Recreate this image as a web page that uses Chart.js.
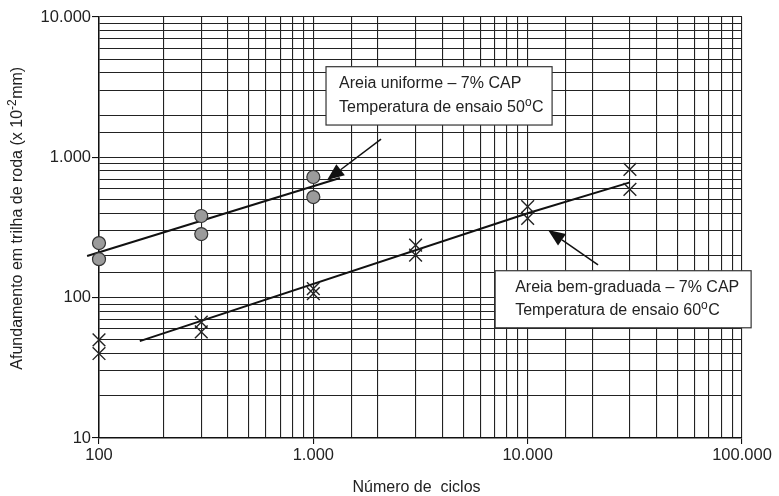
<!DOCTYPE html>
<html><head><meta charset="utf-8">
<script src="https://cdn.jsdelivr.net/npm/chart.js@4.4.1/dist/chart.umd.min.js"></script>
<style>html,body{margin:0;padding:0;background:#fff}#wrap{width:779px;height:496px;position:relative}</style>
</head><body><div id="wrap"><canvas id="c" width="779" height="496"></canvas></div>
<script>
// ---- data ----
const uniformCycles = [100, 100, 300, 300, 1000, 1000];
const uniformDepth  = [245, 188, 382, 284, 724, 521];
const gradedCycles  = [100, 100, 300, 300, 1000, 1000, 3000, 3000, 10000, 10000, 30000, 30000];
const gradedDepth   = [50, 40, 67, 57, 116, 107, 237, 201, 445, 367, 821, 591];
const uniformTrendCycles = [88, 1330];
const uniformTrendDepth  = [198, 712];
const gradedTrendCycles  = [155, 10000, 30000];
const gradedTrendDepth   = [49, 400, 663];
const xTickLabels = [100, 1000, 10000, 100000];
const yTickLabels = [10, 100, 1000, 10000];
const xTitle = 'Número de  ciclos';
const yTitleParts = ['Afundamento em trilha de roda (x 10', '-2', 'mm)'];
const note1Lines = [['Areia uniforme – 7% CAP'], ['Temperatura de ensaio 50', 'o', 'C']];
const note2Lines = [['Areia bem-graduada – 7% CAP'], ['Temperatura de ensaio 60', 'o', 'C']];

// annotation placement (data coordinates)
const notes = [
  {lines: note1Lines, x0: 1146, x1: 13000, y0: 4424, y1: 1699, padX: 13, from: [2070, 1350], to: [1159, 689]},
  {lines: note2Lines, x0: 7050, x1: 110300, y0: 155.6, y1: 61, padX: 20, from: [21300, 171], to: [12450, 303]}
];

const FONT = "'Liberation Sans', Arial, sans-serif";
const fmt = v => String(v).replace(/\B(?=(\d{3})+(?!\d))/g, '.');
const isPow10 = v => Math.abs(Math.log10(v) - Math.round(Math.log10(v))) < 1e-9;
const toPts = (xs, ys) => xs.map((x, i) => ({x, y: ys[i]}));

function drawParts(ctx, parts, x, y, size) {
  let cx = x;
  parts.forEach((p, i) => {
    const sup = (i % 2 === 1);
    ctx.font = (sup ? Math.round(size * 0.75) : size) + 'px ' + FONT;
    ctx.fillText(p, cx, sup ? y - size * 0.33 : y);
    cx += ctx.measureText(p).width + (sup ? 0.5 : 0);
  });
}
function partsWidth(ctx, parts, size) {
  let w = 0;
  parts.forEach((p, i) => {
    ctx.font = ((i % 2 === 1) ? Math.round(size * 0.75) : size) + 'px ' + FONT;
    w += ctx.measureText(p).width;
  });
  return w;
}
function arrow(ctx, x1, y1, x2, y2) {
  const a = Math.atan2(y2 - y1, x2 - x1), L = 17, W = 7;
  const bx = x2 - L * Math.cos(a), by = y2 - L * Math.sin(a);
  ctx.strokeStyle = '#111'; ctx.lineWidth = 1.5;
  ctx.beginPath(); ctx.moveTo(x1, y1); ctx.lineTo(bx, by); ctx.stroke();
  ctx.fillStyle = '#111';
  ctx.beginPath();
  ctx.moveTo(x2, y2);
  ctx.lineTo(bx + W * Math.sin(a), by - W * Math.cos(a));
  ctx.lineTo(bx - W * Math.sin(a), by + W * Math.cos(a));
  ctx.closePath(); ctx.fill();
}

const overlay = {
  id: 'overlay',
  afterDraw(chart) {
    const ctx = chart.ctx, xs = chart.scales.x, ys = chart.scales.y;
    ctx.save();
    notes.forEach(n => {
      arrow(ctx, xs.getPixelForValue(n.from[0]), ys.getPixelForValue(n.from[1]),
                 xs.getPixelForValue(n.to[0]), ys.getPixelForValue(n.to[1]));
      const L = xs.getPixelForValue(n.x0), R = xs.getPixelForValue(n.x1);
      const T = ys.getPixelForValue(n.y0), B = ys.getPixelForValue(n.y1);
      ctx.fillStyle = '#fff';
      ctx.fillRect(L, T, R - L, B - T);
      ctx.strokeStyle = '#333'; ctx.lineWidth = 1.2;
      ctx.strokeRect(L, T, R - L, B - T);
      ctx.fillStyle = '#222'; ctx.textBaseline = 'middle'; ctx.textAlign = 'left';
      const h = B - T;
      drawParts(ctx, n.lines[0], L + n.padX, T + h * 0.29, 16);
      drawParts(ctx, n.lines[1], L + n.padX, T + h * 0.70, 16);
    });
    // axis titles
    ctx.fillStyle = '#222'; ctx.textBaseline = 'middle'; ctx.textAlign = 'center';
    ctx.font = '16px ' + FONT;
    ctx.fillText(xTitle, (chart.chartArea.left + chart.chartArea.right) / 2 - 4, 488);
    ctx.textAlign = 'left';
    ctx.translate(18, (chart.chartArea.top + chart.chartArea.bottom) / 2 - 9);
    ctx.rotate(-Math.PI / 2);
    const w = partsWidth(ctx, yTitleParts, 16);
    drawParts(ctx, yTitleParts, -w / 2, 0, 16);
    ctx.restore();
  }
};

const gridColor = '#222';
const tickOpts = (labels) => ({
  autoSkip: false, maxRotation: 0, color: '#222',
  font: {family: FONT, size: 16.5},
  callback: (v) => (labels.includes(v) ? fmt(v) : '')
});

new Chart(document.getElementById('c'), {
  type: 'scatter',
  data: {
    datasets: [
      {label: 'uniforme', data: toPts(uniformCycles, uniformDepth), pointStyle: 'circle',
       pointRadius: 6.5, backgroundColor: '#9b9b9b', borderColor: '#333', borderWidth: 1.2, order: 1},
      {label: 'bem-graduada', data: toPts(gradedCycles, gradedDepth), pointStyle: 'crossRot',
       pointRadius: 9, borderColor: '#222', borderWidth: 1.4, order: 1},
      {type: 'line', label: 'trend1', data: toPts(uniformTrendCycles, uniformTrendDepth), showLine: true,
       pointRadius: 0, borderColor: '#111', borderWidth: 2, fill: false, order: 2},
      {type: 'line', label: 'trend2', data: toPts(gradedTrendCycles, gradedTrendDepth), showLine: true,
       pointRadius: 0, borderColor: '#111', borderWidth: 2, fill: false, order: 2}
    ]
  },
  options: {
    responsive: false, animation: false, devicePixelRatio: 1,
    layout: {padding: {left: 0, right: 37, top: 17, bottom: 0}},
    plugins: {legend: {display: false}, tooltip: {enabled: false}},
    clip: false,
    scales: {
      x: {
        type: 'logarithmic', min: 100, max: 100000,
        afterFit: s => { s.height = 58; },
        border: {display: true, color: '#111', width: 1.5},
        grid: {color: gridColor, lineWidth: 1.1, tickLength: 6,
               tickColor: c => (c.tick && isPow10(c.tick.value) ? '#111' : 'rgba(0,0,0,0)')},
        ticks: Object.assign(tickOpts(xTickLabels), {padding: 2})
      },
      y: {
        type: 'logarithmic', min: 10, max: 10000,
        afterFit: s => { s.width = 99; },
        border: {display: true, color: '#111', width: 1.5},
        grid: {color: gridColor, lineWidth: 1.1, tickLength: 7,
               tickColor: c => (c.tick && isPow10(c.tick.value) ? '#111' : 'rgba(0,0,0,0)')},
        ticks: Object.assign(tickOpts(yTickLabels), {padding: 1})
      }
    }
  },
  plugins: [overlay]
});
</script></body></html>
